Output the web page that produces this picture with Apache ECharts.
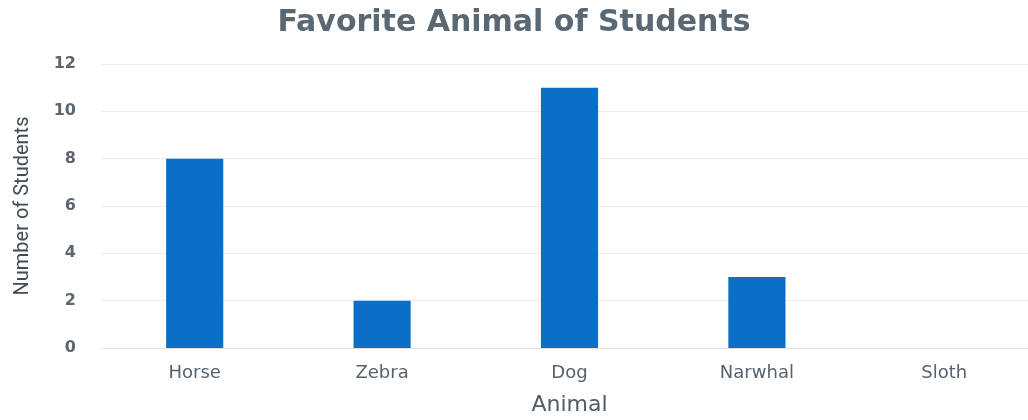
<!DOCTYPE html>
<html>
<head>
<meta charset="utf-8">
<script src="https://cdn.jsdelivr.net/npm/echarts@6/dist/echarts.min.js"></script>
<style>
  html, body { margin: 0; padding: 0; background: #fff; }
  #chart { width: 1028px; height: 420px; }
</style>
</head>
<body>
<div id="chart"></div>
<script>
// Survey results: favourite animal of the class
const animals = ['Horse', 'Zebra', 'Dog', 'Narwhal', 'Sloth'];
const studentCounts = [8, 2, 11, 3, 0];
const yTicks = [0, 2, 4, 6, 8, 10, 12];

const chart = echarts.init(document.getElementById('chart'), null, { renderer: 'canvas' });

chart.setOption({
  backgroundColor: '#ffffff',
  animation: false,
  title: {
    text: 'Favorite Animal of Students',
    left: 'center',
    top: 3,
    textStyle: {
      fontFamily: 'DejaVu Sans',
      fontWeight: 'bold',
      fontSize: 30,
      color: '#5a6873'
    }
  },
  grid: {
    left: 101,
    width: 937,
    top: 64,
    height: 284,
    outerBoundsMode: 'none',
    containLabel: false
  },
  xAxis: {
    type: 'category',
    data: animals,
    name: 'Animal',
    nameLocation: 'middle',
    nameGap: 46,
    nameTextStyle: {
      fontFamily: 'DejaVu Sans',
      fontSize: 22,
      color: '#4f5d68'
    },
    axisLine: { show: true, lineStyle: { color: '#e3e3e3', width: 1 } },
    axisTick: { show: false },
    axisLabel: {
      margin: 16,
      fontFamily: 'DejaVu Sans',
      fontSize: 18,
      color: '#56626c'
    }
  },
  yAxis: {
    type: 'value',
    min: yTicks[0],
    max: yTicks[yTicks.length - 1],
    interval: yTicks[1] - yTicks[0],
    name: 'Number of Students',
    nameLocation: 'middle',
    nameGap: 68,
    nameRotate: 90,
    nameTextStyle: {
      fontFamily: 'Liberation Sans Narrow, Roboto, sans-serif',
      fontSize: 20,
      color: '#3f4b55'
    },
    axisLine: { show: false },
    axisTick: { show: false },
    splitLine: { show: true, lineStyle: { color: '#ececec', width: 1 } },
    axisLabel: {
      margin: 25,
      fontFamily: 'DejaVu Sans',
      fontWeight: 'bold',
      fontSize: 16,
      color: '#5b6670'
    }
  },
  series: [{
    type: 'bar',
    data: studentCounts,
    barWidth: '30.5%',
    itemStyle: { color: '#0b6fc8' }
  }]
});
</script>
</body>
</html>
